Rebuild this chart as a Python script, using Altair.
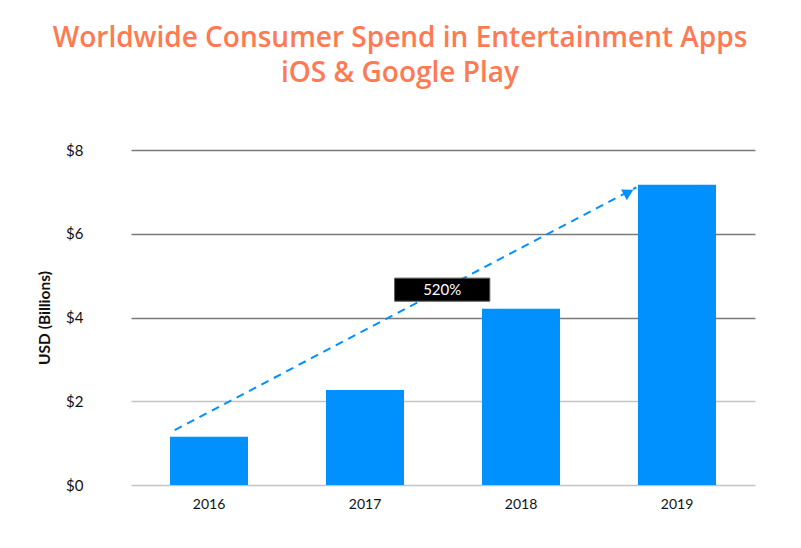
import altair as alt
import pandas as pd

# ---- data ----
years = ["2016", "2017", "2018", "2019"]
spend = [1.15, 2.27, 4.21, 7.17]

# annotation: growth arrow (x in band-index units, y in USD billions)
arrow_x = [0.28, 3.24]
arrow_y = [1.31, 7.11]
arrow_head_x = [3.19]
arrow_head_y = [6.99]
label_text = ["520%"]
label_x = [1.69, 2.30]
label_y = [4.39, 4.94]

title_lines = ["Worldwide Consumer Spend in Entertainment Apps", "iOS & Google Play"]

bars_df = pd.DataFrame({"year": years, "spend": spend})
arrow_df = pd.DataFrame({"x": arrow_x, "y": arrow_y})
head_df = pd.DataFrame({"x": arrow_head_x, "y": arrow_head_y})
box_df = pd.DataFrame({"x": [label_x[0]], "x2": [label_x[1]], "y": [label_y[0]], "y2": [label_y[1]],
                       "xc": [(label_x[0] + label_x[1]) / 2], "yc": [(label_y[0] + label_y[1]) / 2],
                       "t": label_text})

FONT = "Lato"
TFONT = "Open Sans"
BLUE = "#0091FF"

yscale = alt.Scale(domain=[0, 8], nice=False)
xq = alt.Scale(domain=[0, 4], nice=False, zero=False)

yaxis = alt.Axis(values=[0, 2, 4, 6, 8], labelExpr="'$' + datum.value",
                 labelFontSize=15, labelColor="#111", labelFont=FONT, labelPadding=48,
                 titleFont=FONT, titleFontSize=15.5, titleFontWeight="bold", titleColor="#111",
                 titlePadding=13, domain=False, ticks=False,
                 gridColor={"condition": {"test": "datum.value <= 2", "value": "#c4c4c4"},
                            "value": "#7a7a7a"},
                 gridWidth=1.3)
YT = "USD (Billions)"

bars = alt.Chart(bars_df).mark_bar(color=BLUE).encode(
    x=alt.X("year:N", title=None, sort=years,
            scale=alt.Scale(paddingInner=0.5, paddingOuter=0.25),
            axis=alt.Axis(labelAngle=0, labelFontSize=14, labelColor="#111", labelFont=FONT,
                          labelPadding=12, domain=False, ticks=False)),
    y=alt.Y("spend:Q", scale=yscale, title=YT, axis=yaxis),
)

line = alt.Chart(arrow_df).mark_line(color=BLUE, strokeDash=[8, 6], strokeWidth=2).encode(
    x=alt.X("x:Q", scale=xq, axis=None),
    y=alt.Y("y:Q", scale=yscale, title=YT, axis=yaxis),
)

head = alt.Chart(head_df).mark_point(shape="triangle-up", filled=True, color=BLUE, size=150,
                                     opacity=1, angle=62).encode(
    x=alt.X("x:Q", scale=xq, axis=None),
    y=alt.Y("y:Q", scale=yscale, title=YT, axis=yaxis),
)

box = alt.Chart(box_df).mark_rect(color="black", stroke="#555", strokeWidth=1).encode(
    x=alt.X("x:Q", scale=xq, axis=None), x2="x2:Q",
    y=alt.Y("y:Q", scale=yscale, title=YT, axis=yaxis), y2="y2:Q",
)

txt = alt.Chart(box_df).mark_text(color="white", fontSize=15, font=FONT).encode(
    x=alt.X("xc:Q", scale=xq, axis=None),
    y=alt.Y("yc:Q", scale=yscale, title=YT, axis=yaxis),
    text="t:N",
)

annot = alt.layer(line, head, box, txt)

chart = alt.layer(bars, annot).resolve_scale(x="independent").properties(
    width=624, height=335,
    padding={"left": 29, "top": 17, "right": 5, "bottom": 5},
    title=alt.TitleParams(title_lines, font=TFONT, fontSize=28, fontWeight=600, color="#FF7A52",
                          anchor="middle", dx=-43, offset=55, lineHeight=35),
).configure_view(stroke=None)

chart.save("out.html", embed_options={"renderer": "svg", "actions": False})
